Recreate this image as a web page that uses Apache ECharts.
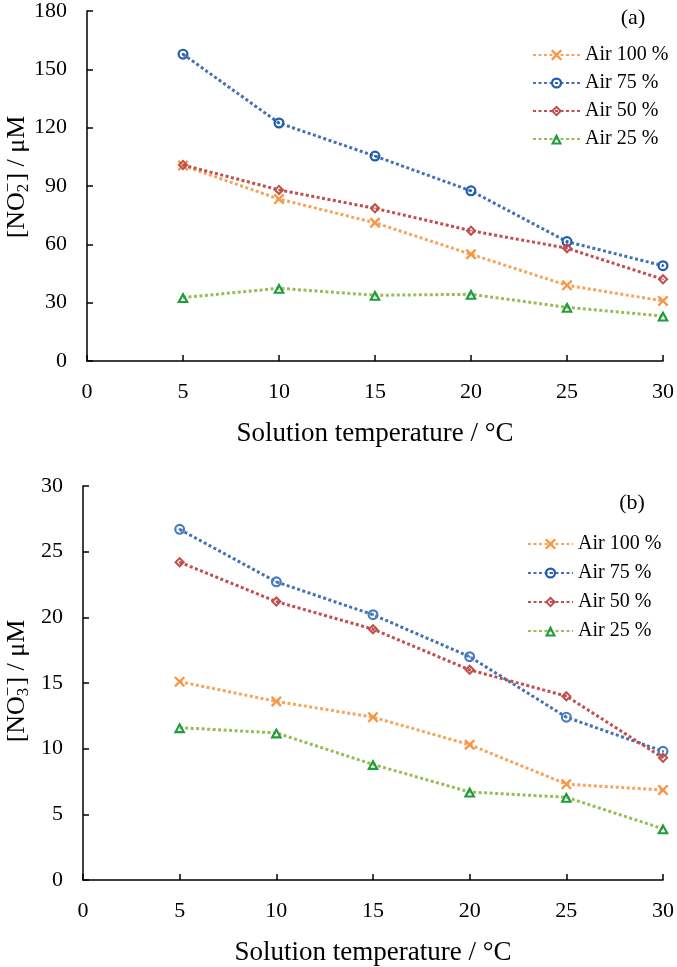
<!DOCTYPE html>
<html>
<head>
<meta charset="utf-8">
<script src="https://cdn.jsdelivr.net/npm/echarts@6/dist/echarts.min.js"></script>
<style>
html,body{margin:0;padding:0;background:#fff;}
#chart{width:677px;height:967px;}
</style>
</head>
<body>
<div id="chart"></div>
<script>
// ---- data ----
const temps = [5, 10, 15, 20, 25, 30];
const seriesNames = ['Air 100 %', 'Air 75 %', 'Air 50 %', 'Air 25 %'];
const no2_air100 = [100.5, 83.3, 71.1, 54.9, 38.9, 30.9];
const no2_air75  = [157.8, 122.4, 105.4, 87.5, 61.4, 49.0];
const no2_air50  = [100.8, 88.0, 78.5, 67.0, 58.0, 42.0];
const no2_air25  = [32.6, 37.4, 33.8, 34.3, 27.6, 23.1];
const no3_air100 = [15.1, 13.6, 12.4, 10.3, 7.3, 6.85];
const no3_air75  = [26.7, 22.7, 20.2, 17.0, 12.4, 9.8];
const no3_air50  = [24.2, 21.2, 19.1, 16.0, 14.0, 9.3];
const no3_air25  = [11.6, 11.2, 8.8, 6.7, 6.3, 3.9];
const xTicks = [0, 5, 10, 15, 20, 25, 30];
const yTicksTop = [0, 30, 60, 90, 120, 150, 180];
const yTicksBottom = [0, 5, 10, 15, 20, 25, 30];

const FONT = '"Liberation Serif", "Times New Roman", serif';

// symbols (filled outlines with holes via nonzero winding)
const SYM_X = 'path://M0,1.5L1.5,0L5,3.5L8.5,0L10,1.5L6.5,5L10,8.5L8.5,10L5,6.5L1.5,10L0,8.5L3.5,5Z';
const SYM_CIRCLE = 'path://M0,5A5,5 0 1,1 10,5A5,5 0 1,1 0,5Z M2,5A3,3 0 1,0 8,5A3,3 0 1,0 2,5Z M4,5A1,1 0 1,1 6,5A1,1 0 1,1 4,5Z';
const SYM_DIAMOND = 'path://M5,0L10,5L5,10L0,5Z M5,2.6L2.6,5L5,7.4L7.4,5Z M5,4.1L5.9,5L5,5.9L4.1,5Z';
const SYM_TRI = 'path://M5,0L10,9L0,9Z M5,3.6L3,7.3L7,7.3Z';

const lineColors = ['#F5A55C', '#4470B8', '#C0504D', '#9BBB59'];
const markerTop = ['#F79646', '#1F5BB0', '#C0504D', '#1E9B3C'];
const markerBottom = ['#F79646', '#4A7DC0', '#C0504D', '#1E9B3C'];
const symbols = [SYM_X, SYM_CIRCLE, SYM_DIAMOND, SYM_TRI];
const symSizes = [[11, 11], [11, 11], [11, 11], [12, 11]];

function makeSeries(arrs, gridIdx, markerColors) {
  return arrs.map((arr, i) => ({
    name: seriesNames[i],
    type: 'line',
    xAxisIndex: gridIdx,
    yAxisIndex: gridIdx,
    data: temps.map((t, k) => [t, arr[k]]),
    symbol: symbols[i],
    symbolSize: symSizes[i],
    showAllSymbol: true,
    lineStyle: { color: lineColors[i], width: 3, type: [3, 2.5], cap: 'butt' },
    itemStyle: { color: markerColors[i], borderWidth: 0 },
    emphasis: { disabled: true },
    z: 2 + i
  }));
}

const chart = echarts.init(document.getElementById('chart'), null, { renderer: 'canvas' });

function xAxisCfg(gridIndex) {
  return {
    gridIndex, type: 'value', min: 0, max: 30, interval: 5,
    name: 'Solution temperature / °C', nameLocation: 'middle', nameGap: 59,
    nameTextStyle: { fontFamily: FONT, fontSize: 27, color: '#000' },
    axisLine: { show: true, onZero: false, lineStyle: { color: '#000', width: 1.5 } },
    axisTick: { show: true, inside: true, length: 6, lineStyle: { color: '#000', width: 1.5 } },
    axisLabel: { fontFamily: FONT, fontSize: 22, color: '#000', margin: 20 },
    splitLine: { show: false }
  };
}
function yAxisCfg(gridIndex, max, interval) {
  return {
    gridIndex, type: 'value', min: 0, max, interval,
    axisLine: { show: true, lineStyle: { color: '#000', width: 1.5 } },
    axisTick: { show: true, inside: true, length: 6, lineStyle: { color: '#000', width: 1.5 } },
    axisLabel: { fontFamily: FONT, fontSize: 22, color: '#000', margin: 20 },
    splitLine: { show: false }
  };
}

// axis title with stacked sub/superscript via measured text
function yTitle(cx, cy, sub) {
  const ctx = document.createElement('canvas').getContext('2d');
  const F = 26, f = 17;
  ctx.font = F + 'px ' + FONT;
  const w1 = ctx.measureText('[NO').width;
  const w3 = ctx.measureText('] / μM').width;
  ctx.font = f + 'px ' + FONT;
  const w2 = Math.max(ctx.measureText(sub).width, ctx.measureText('−').width) + 1;
  const total = w1 + w2 + w3;
  const x0 = -total / 2;
  const base = { fill: '#000', fontFamily: FONT, verticalAlign: 'middle', align: 'left' };
  return {
    type: 'group', x: cx, y: cy, rotation: Math.PI / 2,
    children: [
      { type: 'text', x: x0, y: 0, style: Object.assign({}, base, { text: '[NO', fontSize: F }) },
      { type: 'text', x: x0 + w1, y: 7, style: Object.assign({}, base, { text: sub, fontSize: f }) },
      { type: 'text', x: x0 + w1, y: -8, style: Object.assign({}, base, { text: '−', fontSize: f }) },
      { type: 'text', x: x0 + w1 + w2, y: 0, style: Object.assign({}, base, { text: '] / μM', fontSize: F }) }
    ]
  };
}

const option = {
  backgroundColor: '#fff',
  animation: false,
  grid: [
    { left: 87, top: 11, width: 579, height: 350 },
    { left: 83, top: 486, width: 581, height: 396 }
  ],
  xAxis: [xAxisCfg(0), xAxisCfg(1)],
  yAxis: [yAxisCfg(0, 180, 30), yAxisCfg(1, 30, 5)],
  legend: [
    {
      data: seriesNames, orient: 'vertical', left: 527, top: 40,
      itemWidth: 47, itemHeight: 14, itemGap: 8, selectedMode: false,
      textStyle: { fontFamily: FONT, fontSize: 20, color: '#000', lineHeight: 20 }
    },
    {
      data: seriesNames, orient: 'vertical', left: 522, top: 529,
      itemWidth: 45, itemHeight: 14, itemGap: 9, selectedMode: false,
      textStyle: { fontFamily: FONT, fontSize: 20, color: '#000', lineHeight: 20 }
    }
  ],
  graphic: [
    { type: 'text', x: 633, y: 18, style: { text: '(a)', fontFamily: FONT, fontSize: 22, fill: '#000', align: 'center', verticalAlign: 'middle' } },
    { type: 'text', x: 632, y: 503, style: { text: '(b)', fontFamily: FONT, fontSize: 22, fill: '#000', align: 'center', verticalAlign: 'middle' } },
    yTitle(17, 177, '2'),
    yTitle(17, 681, '3')
  ],
  series: [].concat(
    makeSeries([no2_air100, no2_air75, no2_air50, no2_air25], 0, markerTop),
    makeSeries([no3_air100, no3_air75, no3_air50, no3_air25], 1, markerBottom)
  )
};
chart.setOption(option);
</script>
</body>
</html>
